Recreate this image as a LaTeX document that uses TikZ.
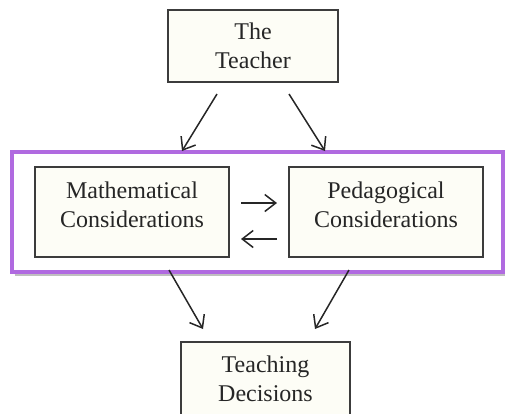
\documentclass[tikz,border=0pt]{standalone}
\usepackage{fontspec}
\setmainfont{Liberation Serif}
\usetikzlibrary{arrows.meta}
\definecolor{boxfill}{HTML}{FDFDF6}
\definecolor{boxline}{HTML}{3C3C3C}
\definecolor{frameline}{RGB}{176,106,224}
\definecolor{inktext}{HTML}{262626}
\newcommand{\cell}[3]{\parbox[c][#2][t]{#1}{\centering #3}}
\tikzset{
  box/.style={draw=boxline,fill=boxfill,line width=1.3pt,inner xsep=2pt,
    text=inktext,font=\fontsize{24}{29}\selectfont},
  arr/.style={draw=black!85,line width=1.5pt,-{Straight Barb[length=11pt,width=17pt]}}
}
\begin{document}
\begin{tikzpicture}[x=1pt,y=-1pt]
\useasboundingbox (0,0) rectangle (506,413);
\draw[black!25,line width=2pt](14.5,275) -- (505,275);
\draw[frameline,line width=4pt](12,152) rectangle (503,272);
\node[box,inner ysep=13pt] (teacher) at (253,46) {\cell{166pt}{46pt}{The\\Teacher}};
\node[box,inner ysep=15pt] (math) at (132,212) {\cell{190pt}{60pt}{Mathematical\\Considerations}};
\node[box,inner ysep=15pt] (ped) at (386,212) {\cell{190pt}{60pt}{Pedagogical\\Considerations}};
\node[box,inner ysep=14pt] (dec) at (265.5,387) {\cell{165pt}{62pt}{Teaching\\Decisions}};
\coordinate (a) at (217,94);
\coordinate (b) at (182,151);
\coordinate (c) at (289,94);
\coordinate (d) at (325,151);
\coordinate (e) at (241,203);
\coordinate (f) at (277,203);
\coordinate (g) at (277,239);
\coordinate (h) at (241,239);
\coordinate (i) at (169,270);
\coordinate (j) at (203,329);
\coordinate (k) at (349,270);
\coordinate (l) at (315,329);
\draw[arr](a)--(b);
\draw[arr](c)--(d);
\draw[arr](e)--(f);
\draw[arr](g)--(h);
\draw[arr](i)--(j);
\draw[arr](k)--(l);
\end{tikzpicture}
\end{document}
